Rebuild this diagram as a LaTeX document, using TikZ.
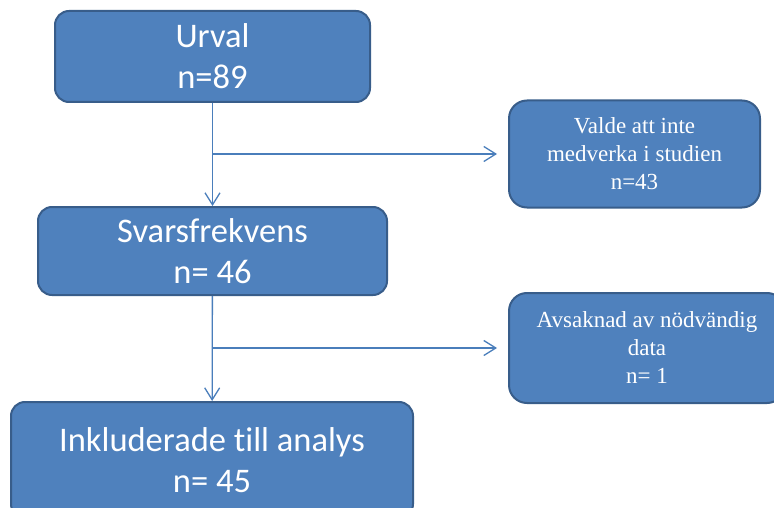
\documentclass[tikz,border=0pt]{standalone}
\usepackage{fontspec}
\setmainfont[Ligatures=NoCommon]{Carlito}
\newfontfamily\sideserif{Liberation Serif}
\usetikzlibrary{arrows.meta}
\definecolor{boxfill}{HTML}{4F81BD}
\definecolor{boxline}{HTML}{385D8A}
\definecolor{arrline}{HTML}{4A7EBB}

\begin{document}
\begin{tikzpicture}[
  x=1pt,y=-1pt,
  box/.style={draw=boxline,fill=boxfill,line width=2pt,rounded corners=14pt,align=center,text=white,inner sep=0pt,font=\fontsize{34.5}{41}\selectfont},
  sidebox/.style={box,rounded corners=18pt,font=\sideserif\fontsize{23}{28}\selectfont},
  arr/.style={draw=arrline,line width=1.3pt,-{Straight Barb[length=12pt,width=15pt]}}
]
\useasboundingbox (0,0) rectangle (774,508);
\clip (0,0) rectangle (774,508);
% main column
\node[box,minimum width=315pt,minimum height=91pt] (urval) at (212.5,56.5) {Urval\\n=89};
\node[box,minimum width=349pt,minimum height=88pt] (svar) at (212.5,251) {Svarsfrekvens\\n= 46};
\node[box,minimum width=402pt,minimum height=116pt] (inkl) at (212,460) {Inkluderade till analys\\n= 45};
% exclusions
\node[sidebox,minimum width=251pt,minimum height=107pt] (valde) at (634.5,154) {Valde att inte\\medverka i studien\\n=43};
\node[sidebox,minimum width=276pt,minimum height=110pt] (saknad) at (647,348) {Avsaknad av nödvändig\\data\\n= 1};
\coordinate (split1) at (urval.south |- valde.west);
\coordinate (split2) at (svar.south |- saknad.west);
\draw[arr] (urval) -- (svar);
\draw[arr] (svar) -- (inkl);
\draw[arr,shorten >=11pt] (split1) -- (valde.west);
\draw[arr,shorten >=11pt] (split2) -- (saknad.west);
\end{tikzpicture}
\end{document}
